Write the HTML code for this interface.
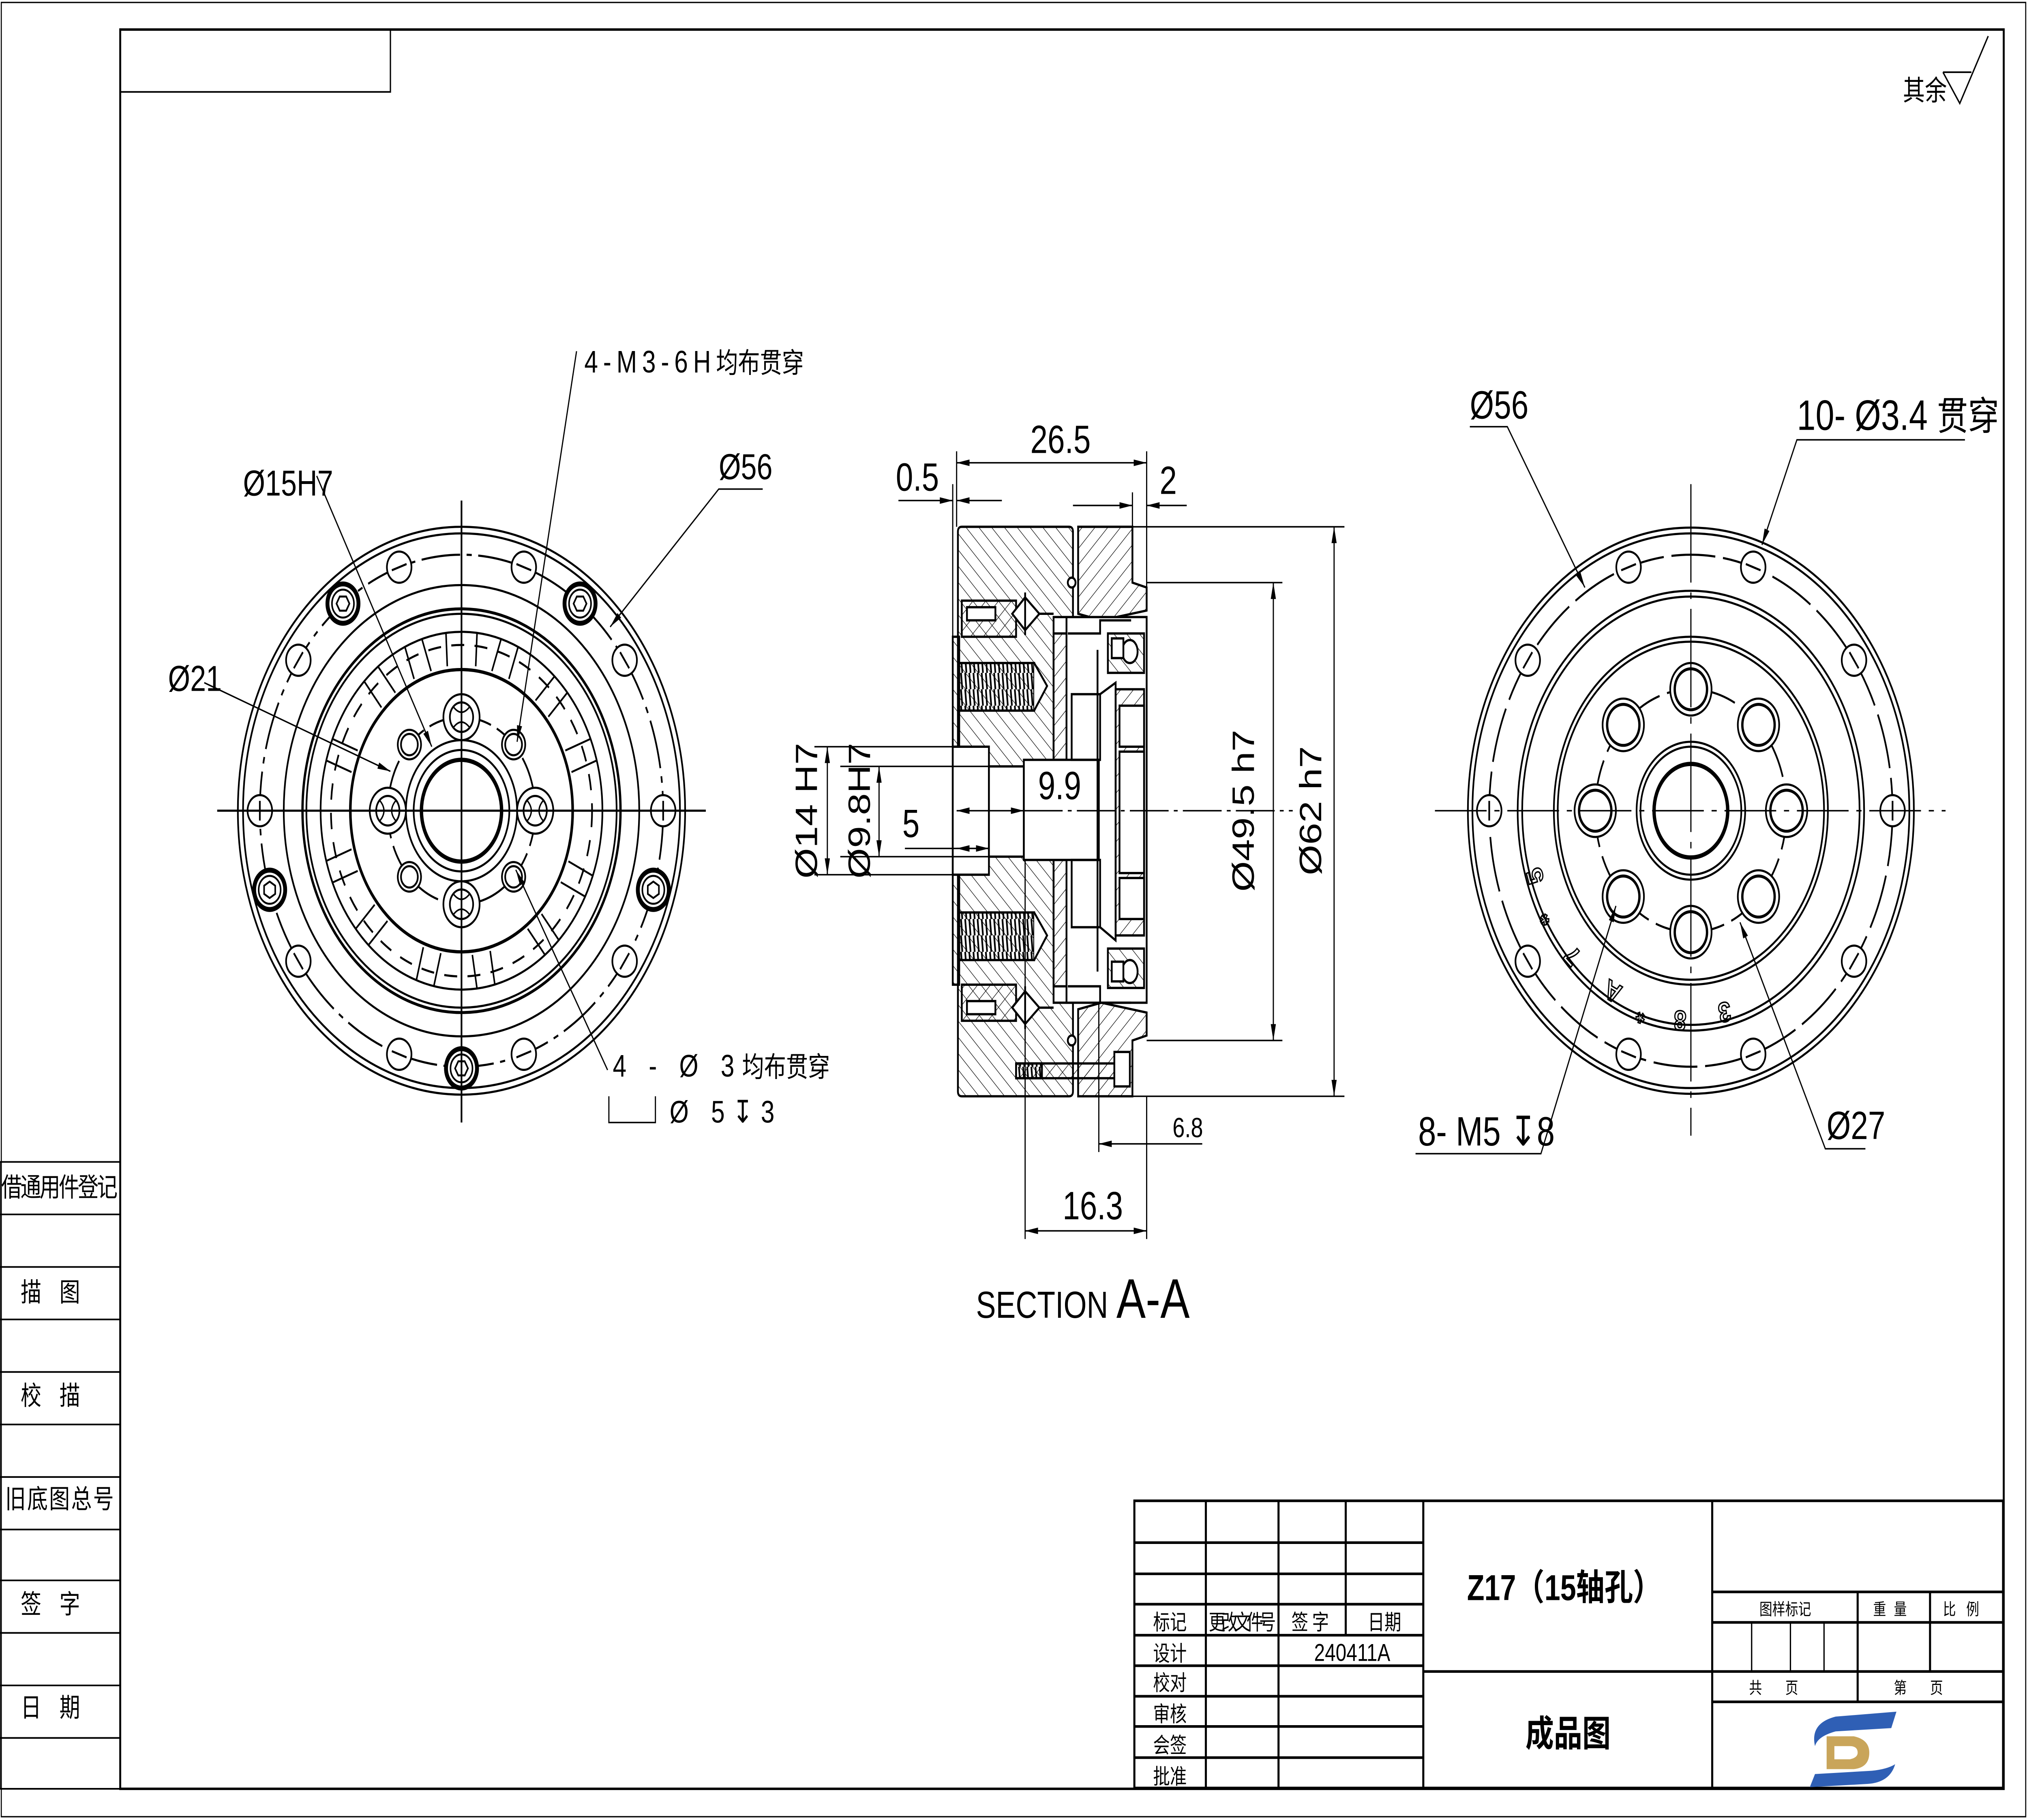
<!DOCTYPE html>
<html><head><meta charset="utf-8">
<style>
html,body{margin:0;padding:0;background:#fff;width:100%;height:100%;overflow:hidden}
svg{display:block;width:100vw;height:100vh;position:absolute;left:0;top:0}
text{font-family:"Liberation Sans Narrow","Liberation Sans","Noto Sans CJK SC",sans-serif;fill:#000}
.cjk{font-family:"Liberation Sans","Noto Sans CJK SC",sans-serif}
</style></head><body>
<svg viewBox="0 0 1568 1109" preserveAspectRatio="none" xmlns="http://www.w3.org/2000/svg">
<defs>
<pattern id="h1" patternUnits="userSpaceOnUse" width="7" height="7" patternTransform="rotate(45)">
<line x1="0" y1="0" x2="0" y2="7" stroke="#000" stroke-width="0.7"/></pattern>
<pattern id="h2" patternUnits="userSpaceOnUse" width="7" height="7" patternTransform="rotate(-45)">
<line x1="0" y1="0" x2="0" y2="7" stroke="#000" stroke-width="0.7"/></pattern>
<pattern id="th" patternUnits="userSpaceOnUse" width="3.2" height="10">
<line x1="1" y1="0" x2="2" y2="10" stroke="#000" stroke-width="1.3"/></pattern>
<marker id="ar" viewBox="0 0 10 4" refX="10" refY="2" markerWidth="10" markerHeight="4" markerUnits="userSpaceOnUse" orient="auto-start-reverse"><path d="M0 0L10 2L0 4Z" fill="#000"/></marker>
</defs>
<rect x="0" y="0" width="1568" height="1109" fill="#fff"/>
<rect x="1" y="1.5" width="1566" height="1105.5" fill="none" stroke="#000" stroke-width="0.8"/>
<rect x="93" y="18" width="1457" height="1072" fill="none" stroke="#000" stroke-width="1.5"/>
<polyline points="93,56 302,56 302,18" fill="none" stroke="#000" stroke-width="1"/>
<g stroke="#000" stroke-width="1">
<line x1="0" y1="708" x2="0" y2="1090"/>
<line x1="0" y1="708" x2="93" y2="708"/><line x1="0" y1="740" x2="93" y2="740"/>
<line x1="0" y1="772" x2="93" y2="772"/><line x1="0" y1="804" x2="93" y2="804"/>
<line x1="0" y1="836" x2="93" y2="836"/><line x1="0" y1="868" x2="93" y2="868"/>
<line x1="0" y1="900" x2="93" y2="900"/><line x1="0" y1="932" x2="93" y2="932"/>
<line x1="0" y1="963" x2="93" y2="963"/><line x1="0" y1="995" x2="93" y2="995"/>
<line x1="0" y1="1027" x2="93" y2="1027"/><line x1="0" y1="1059" x2="93" y2="1059"/>
<line x1="0" y1="1090" x2="93" y2="1090"/>
</g>
<g class="cjk" font-size="16" text-anchor="middle">
<text class="cjk" x="46" y="729" textLength="90">借通用件登记</text>
<text class="cjk" x="46" y="793" letter-spacing="14">描图</text>
<text class="cjk" x="46" y="856" letter-spacing="14">校描</text>
<text class="cjk" x="46" y="919" textLength="84">旧底图总号</text>
<text class="cjk" x="46" y="983" letter-spacing="14">签字</text>
<text class="cjk" x="46" y="1046" letter-spacing="14">日期</text>
</g>
<text class="cjk" x="1472" y="61" font-size="17">其余</text>
<polyline points="1503,44 1516,63 1538,22" fill="none" stroke="#000" stroke-width="1"/>
<line x1="1503" y1="44" x2="1525" y2="44" stroke="#000" stroke-width="1"/>

<!-- LEFT VIEW -->
<g fill="none" stroke="#000" stroke-width="1.3">
<circle cx="357" cy="494" r="173"/><circle cx="357" cy="494" r="169"/>
<circle cx="357" cy="494" r="156" stroke-dasharray="30 5 4 5"/>
<circle cx="357" cy="494" r="137.5"/><circle cx="357" cy="494" r="123" stroke-width="1.8"/>
<circle cx="357" cy="494" r="120"/><circle cx="357" cy="494" r="109"/>
<circle cx="357" cy="494" r="101" stroke-dasharray="10 8"/>
<circle cx="357" cy="494" r="86" stroke-width="2"/>
<circle cx="357" cy="494" r="57" stroke-dasharray="22 5"/>
<circle cx="357" cy="494" r="43"/><circle cx="357" cy="494" r="37"/>
<circle cx="357" cy="494" r="31" stroke-width="2.6"/>
</g>
<g stroke="#000" stroke-width="1.2" fill="none">
<path d="M357 385 v21 M345 386 l1 20 M369 386 l-1 20"/>
<g transform="rotate(20 357 494)"><path d="M350 385 v21 M364 385 v21"/></g>
<g transform="rotate(45 357 494)"><path d="M350 385 v21 M364 385 v21"/></g>
<g transform="rotate(70 357 494)"><path d="M350 385 v21 M364 385 v21"/></g>
<g transform="rotate(115 357 494)"><path d="M350 385 v21 M364 385 v21"/></g>
<g transform="rotate(140 357 494)"><path d="M350 385 v21 M364 385 v21"/></g>
<g transform="rotate(170 357 494)"><path d="M350 385 v21 M364 385 v21"/></g>
<g transform="rotate(195 357 494)"><path d="M350 385 v21 M364 385 v21"/></g>
<g transform="rotate(225 357 494)"><path d="M350 385 v21 M364 385 v21"/></g>
<g transform="rotate(250 357 494)"><path d="M350 385 v21 M364 385 v21"/></g>
<g transform="rotate(290 357 494)"><path d="M350 385 v21 M364 385 v21"/></g>
<g transform="rotate(320 357 494)"><path d="M350 385 v21 M364 385 v21"/></g>
<g transform="rotate(340 357 494)"><path d="M350 385 v21 M364 385 v21"/></g>
</g>
<g fill="#fff" stroke="#000" stroke-width="1.3">
<circle cx="513" cy="494" r="9.5"/><circle cx="483.2" cy="402.3" r="9.5"/><circle cx="405.2" cy="345.6" r="9.5"/>
<circle cx="308.8" cy="345.6" r="9.5"/><circle cx="230.8" cy="402.3" r="9.5"/><circle cx="201" cy="494" r="9.5"/>
<circle cx="230.8" cy="585.7" r="9.5"/><circle cx="308.8" cy="642.4" r="9.5"/><circle cx="405.2" cy="642.4" r="9.5"/>
<circle cx="483.2" cy="585.7" r="9.5"/>
</g>
<g stroke="#000" stroke-width="1.3">
<line x1="513" y1="488" x2="513" y2="500"/>
<line x1="479.7" y1="397.4" x2="486.7" y2="407.2"/>
<line x1="399.5" y1="343.7" x2="410.9" y2="347.5"/>
<line x1="303.1" y1="347.5" x2="314.5" y2="343.7"/>
<line x1="227.3" y1="407.2" x2="234.3" y2="397.4"/>
<line x1="201" y1="488" x2="201" y2="500"/>
<line x1="227.3" y1="580.8" x2="234.3" y2="590.6"/>
<line x1="303.1" y1="640.5" x2="314.5" y2="644.3"/>
<line x1="399.5" y1="644.3" x2="410.9" y2="640.5"/>
<line x1="479.7" y1="590.6" x2="486.7" y2="580.8"/>
</g>
<g fill="#fff" stroke="#000">
<g transform="translate(448.7 367.8)"><circle r="12" stroke-width="3"/><circle r="8.5" stroke-width="1.2"/><polygon points="5,0 2.5,4.3 -2.5,4.3 -5,0 -2.5,-4.3 2.5,-4.3" stroke-width="1.2"/></g>
<g transform="translate(265.3 367.8)"><circle r="12" stroke-width="3"/><circle r="8.5" stroke-width="1.2"/><polygon points="5,0 2.5,4.3 -2.5,4.3 -5,0 -2.5,-4.3 2.5,-4.3" stroke-width="1.2"/></g>
<g transform="translate(208.6 542.2)"><circle r="12" stroke-width="3"/><circle r="8.5" stroke-width="1.2"/><polygon points="0,5 4.3,2.5 4.3,-2.5 0,-5 -4.3,-2.5 -4.3,2.5" stroke-width="1.2"/></g>
<g transform="translate(357 651)"><circle r="12" stroke-width="3"/><circle r="8.5" stroke-width="1.2"/><polygon points="5,0 2.5,4.3 -2.5,4.3 -5,0 -2.5,-4.3 2.5,-4.3" stroke-width="1.2"/></g>
<g transform="translate(505.4 542.2)"><circle r="12" stroke-width="3"/><circle r="8.5" stroke-width="1.2"/><polygon points="0,5 4.3,2.5 4.3,-2.5 0,-5 -4.3,-2.5 -4.3,2.5" stroke-width="1.2"/></g>
</g>
<g fill="#fff" stroke="#000" stroke-width="1.3">
<circle cx="414" cy="494" r="14"/><circle cx="414" cy="494" r="9"/>
<circle cx="357" cy="437" r="14"/><circle cx="357" cy="437" r="9"/>
<circle cx="300" cy="494" r="14"/><circle cx="300" cy="494" r="9"/>
<circle cx="357" cy="551" r="14"/><circle cx="357" cy="551" r="9"/>
<circle cx="397.3" cy="453.7" r="9"/><circle cx="397.3" cy="453.7" r="6.5"/>
<circle cx="316.7" cy="453.7" r="9"/><circle cx="316.7" cy="453.7" r="6.5"/>
<circle cx="316.7" cy="534.3" r="9"/><circle cx="316.7" cy="534.3" r="6.5"/>
<circle cx="397.3" cy="534.3" r="9"/><circle cx="397.3" cy="534.3" r="6.5"/>
</g>
<g fill="none" stroke="#000" stroke-width="1">
<path d="M408 488 Q414 494 408 500 M420 488 Q414 494 420 500"/>
<path d="M294 488 Q300 494 294 500 M306 488 Q300 494 306 500"/>
<path d="M351 431 Q357 437 363 431 M351 443 Q357 437 363 443"/>
<path d="M351 545 Q357 551 363 545 M351 557 Q357 551 363 557"/>
</g>
<g stroke="#000" stroke-width="1.3">
<line x1="168" y1="494" x2="546" y2="494"/>
<line x1="357" y1="305" x2="357" y2="684"/>
</g>
<g stroke="#000" stroke-width="0.9" fill="none">
<line x1="446" y1="214" x2="400" y2="452" marker-end="url(#ar)"/>
<line x1="245" y1="290" x2="334" y2="455" marker-end="url(#ar)"/>
<polyline points="590,298 556,298 472,382" marker-end="url(#ar)"/>
<line x1="158" y1="416" x2="302" y2="470" marker-end="url(#ar)"/>
<line x1="470" y1="652" x2="399" y2="530" marker-end="url(#ar)"/>
<polyline points="471,668 471,684 507,684 507,668"/>
</g>
<text class="cjk" x="452" y="227" font-size="19" letter-spacing="4">4-M3-6H<tspan font-size="17" letter-spacing="0">均布贯穿</tspan></text>
<text x="188" y="302" font-size="22">Ø15H7</text>
<text x="556" y="292" font-size="22">Ø56</text>
<text x="130" y="421" font-size="22">Ø21</text>
<text class="cjk" x="474" y="656" font-size="19" letter-spacing="6">4 - Ø 3<tspan font-size="17" letter-spacing="0">均布贯穿</tspan></text>
<text x="518" y="684" font-size="19" letter-spacing="6">Ø 5↧3</text>

<!-- SECTION -->
<g stroke="#000" stroke-width="1.4">
<rect x="737" y="388" width="5" height="212" fill="url(#h2)"/>
<path d="M744 321 H827 Q830 321 830 324 V376 H815 V611 H830 V665 Q830 668 827 668 H744 Q741 668 741 665 V324 Q741 321 744 321 Z" fill="url(#h2)"/>
<path d="M834 321 H876 V355 L887 358 V372 L852 378 L834 374 Z" fill="url(#h1)"/>
<path d="M834 668 H876 V634 L887 631 V617 L852 611 L834 615 Z" fill="url(#h1)"/>
<rect x="815" y="386" width="10" height="77" fill="url(#h1)"/>
<rect x="815" y="524" width="10" height="77" fill="url(#h1)"/>
<rect x="825" y="376" width="62" height="235" fill="#fff"/>
<rect x="737" y="455" width="28" height="78" fill="#fff"/>
<rect x="765" y="467" width="27" height="55" fill="#fff"/>
<rect x="792" y="463" width="58" height="61" fill="#fff"/>
<rect x="742" y="404" width="58" height="29" fill="url(#th)"/>
<rect x="742" y="556" width="58" height="29" fill="url(#th)"/>
<path d="M800 404 L810 418 L800 433" fill="#fff"/>
<path d="M800 556 L810 570 L800 585" fill="#fff"/>
<rect x="744" y="366" width="42" height="22" fill="url(#h1)"/>
<rect x="748" y="370" width="22" height="8" fill="#fff"/>
<rect x="744" y="600" width="42" height="22" fill="url(#h1)"/>
<rect x="748" y="610" width="22" height="8" fill="#fff"/>
<path d="M783 374 L793 364 L804 374 L793 384 Z M793 361 V387 M804 374 H815" fill="#fff"/>
<path d="M783 614 L793 604 L804 614 L793 624 Z M793 601 V627 M804 614 H815" fill="#fff"/>
<rect x="829" y="423" width="22" height="40" fill="none"/>
<rect x="829" y="524" width="22" height="41" fill="none"/>
<path d="M826 386 H851 V378 H875 M826 601 H851 V611 H875" fill="none"/>
<path d="M849 396 V592 M851 423 L863 416 V573 L851 565" fill="none"/>
<rect x="863" y="420" width="22" height="150" fill="url(#h1)"/>
<rect x="866" y="430" width="19" height="25" fill="#fff"/>
<rect x="866" y="535" width="19" height="25" fill="#fff"/>
<rect x="866" y="458" width="19" height="74" fill="#fff"/>
<rect x="857" y="386" width="28" height="24" fill="url(#h2)"/>
<rect x="857" y="578" width="28" height="24" fill="url(#h2)"/>
<ellipse cx="874" cy="397" rx="6" ry="7" fill="#fff"/>
<ellipse cx="874" cy="592" rx="6" ry="7" fill="#fff"/>
<rect x="860" y="389" width="9" height="12" fill="#fff"/>
<rect x="860" y="586" width="9" height="12" fill="#fff"/>
<circle cx="829" cy="355" r="3" fill="#fff"/>
<circle cx="829" cy="634" r="3" fill="#fff"/>
<rect x="786" y="648" width="84" height="9" fill="url(#h1)"/>
<rect x="786" y="648" width="20" height="9" fill="url(#th)"/>
<rect x="862" y="641" width="12" height="21" fill="#fff"/>
</g>
<g stroke="#000" stroke-width="0.9" fill="none">
<line x1="740" y1="275" x2="740" y2="321"/><line x1="737" y1="295" x2="737" y2="388"/>
<line x1="887" y1="275" x2="887" y2="358"/><line x1="876" y1="300" x2="876" y2="321"/>
<line x1="740" y1="282" x2="887" y2="282" marker-start="url(#ar)" marker-end="url(#ar)"/>
<line x1="695" y1="305" x2="737" y2="305" marker-end="url(#ar)"/>
<line x1="740" y1="305" x2="775" y2="305" marker-start="url(#ar)"/>
<line x1="830" y1="308" x2="876" y2="308" marker-end="url(#ar)"/>
<line x1="887" y1="308" x2="918" y2="308" marker-start="url(#ar)"/>
<line x1="887" y1="355" x2="992" y2="355"/><line x1="887" y1="634" x2="992" y2="634"/>
<line x1="985" y1="355" x2="985" y2="634" marker-start="url(#ar)" marker-end="url(#ar)"/>
<line x1="876" y1="321" x2="1040" y2="321"/><line x1="876" y1="668" x2="1040" y2="668"/>
<line x1="1032" y1="321" x2="1032" y2="668" marker-start="url(#ar)" marker-end="url(#ar)"/>
<line x1="630" y1="455" x2="737" y2="455"/><line x1="630" y1="533" x2="737" y2="533"/>
<line x1="640" y1="455" x2="640" y2="533" marker-start="url(#ar)" marker-end="url(#ar)"/>
<line x1="650" y1="467" x2="765" y2="467"/><line x1="650" y1="522" x2="765" y2="522"/>
<line x1="680" y1="467" x2="680" y2="522" marker-start="url(#ar)" marker-end="url(#ar)"/>
<line x1="740" y1="494" x2="792" y2="494" marker-start="url(#ar)" marker-end="url(#ar)"/>
<line x1="792" y1="494" x2="1000" y2="494" stroke-dasharray="30 4 3 4"/>
<line x1="700" y1="517" x2="765" y2="517"/>
<line x1="740" y1="517" x2="765" y2="517" marker-start="url(#ar)" marker-end="url(#ar)"/>
<line x1="850" y1="611" x2="850" y2="702"/>
<line x1="850" y1="697" x2="930" y2="697" marker-start="url(#ar)"/>
<line x1="887" y1="668" x2="887" y2="755"/>
<line x1="793" y1="524" x2="793" y2="755"/>
<line x1="793" y1="750" x2="887" y2="750" marker-start="url(#ar)" marker-end="url(#ar)"/>
</g>
<g font-size="24">
<text x="797" y="276">26.5</text>
<text x="693" y="299">0.5</text>
<text x="897" y="301">2</text>
<text x="698" y="510">5</text>
<text x="803" y="487">9.9</text>
<text x="822" y="743">16.3</text>
<text x="907" y="693" font-size="17">6.8</text>
<text transform="translate(970 494) rotate(-90)" text-anchor="middle">Ø49.5 h7</text>
<text transform="translate(1022 494) rotate(-90)" text-anchor="middle">Ø62 h7</text>
<text transform="translate(632 494) rotate(-90)" text-anchor="middle">Ø14 H7</text>
<text transform="translate(673 494) rotate(-90)" text-anchor="middle">Ø9.8H7</text>
</g>
<text x="755" y="803" font-size="23">SECTION <tspan font-size="34">A-A</tspan></text>

<!-- RIGHT VIEW -->
<g fill="none" stroke="#000" stroke-width="1.3">
<circle cx="1308" cy="494" r="172.5"/><circle cx="1308" cy="494" r="169"/>
<circle cx="1308" cy="494" r="156" stroke-dasharray="34 6"/>
<circle cx="1308" cy="494" r="134"/><circle cx="1308" cy="494" r="130.5"/>
<circle cx="1308" cy="494" r="106"/><circle cx="1308" cy="494" r="103"/>
<circle cx="1308" cy="494" r="74" stroke-dasharray="24 6"/>
<circle cx="1308" cy="494" r="42"/><circle cx="1308" cy="494" r="39"/>
<circle cx="1308" cy="494" r="28.5" stroke-width="2.6"/>
</g>
<g fill="#fff" stroke="#000" stroke-width="1.3">
<circle cx="1464" cy="494" r="9.5"/><circle cx="1434.2" cy="402.3" r="9.5"/><circle cx="1356.2" cy="345.6" r="9.5"/>
<circle cx="1259.8" cy="345.6" r="9.5"/><circle cx="1181.8" cy="402.3" r="9.5"/><circle cx="1152" cy="494" r="9.5"/>
<circle cx="1181.8" cy="585.7" r="9.5"/><circle cx="1259.8" cy="642.4" r="9.5"/><circle cx="1356.2" cy="642.4" r="9.5"/>
<circle cx="1434.2" cy="585.7" r="9.5"/>
</g>
<g stroke="#000" stroke-width="1.3">
<line x1="1464" y1="488" x2="1464" y2="500"/>
<line x1="1430.7" y1="397.4" x2="1437.7" y2="407.2"/>
<line x1="1350.5" y1="343.7" x2="1361.9" y2="347.5"/>
<line x1="1254.1" y1="347.5" x2="1265.5" y2="343.7"/>
<line x1="1178.3" y1="407.2" x2="1185.3" y2="397.4"/>
<line x1="1152" y1="488" x2="1152" y2="500"/>
<line x1="1178.3" y1="580.8" x2="1185.3" y2="590.6"/>
<line x1="1254.1" y1="640.5" x2="1265.5" y2="644.3"/>
<line x1="1350.5" y1="644.3" x2="1361.9" y2="640.5"/>
<line x1="1430.7" y1="590.6" x2="1437.7" y2="580.8"/>
</g>
<g fill="#fff" stroke="#000" stroke-width="1.3">
<circle cx="1382" cy="494" r="16"/><circle cx="1382" cy="494" r="12.5" stroke-width="1.8"/>
<circle cx="1360.3" cy="441.7" r="16"/><circle cx="1360.3" cy="441.7" r="12.5" stroke-width="1.8"/>
<circle cx="1308" cy="420" r="16"/><circle cx="1308" cy="420" r="12.5" stroke-width="1.8"/>
<circle cx="1255.7" cy="441.7" r="16"/><circle cx="1255.7" cy="441.7" r="12.5" stroke-width="1.8"/>
<circle cx="1234" cy="494" r="16"/><circle cx="1234" cy="494" r="12.5" stroke-width="1.8"/>
<circle cx="1255.7" cy="546.3" r="16"/><circle cx="1255.7" cy="546.3" r="12.5" stroke-width="1.8"/>
<circle cx="1308" cy="568" r="16"/><circle cx="1308" cy="568" r="12.5" stroke-width="1.8"/>
<circle cx="1360.3" cy="546.3" r="16"/><circle cx="1360.3" cy="546.3" r="12.5" stroke-width="1.8"/>
</g>
<g stroke="#000" stroke-width="0.9">
<line x1="1110" y1="494" x2="1505" y2="494" stroke-dasharray="40 6 4 6"/>
<line x1="1308" y1="295" x2="1308" y2="692" stroke-dasharray="60 6 4 6"/>
</g>
<g font-size="17" font-weight="bold" stroke="#000" stroke-width="0.9">
<text transform="translate(1193 532) rotate(252)" text-anchor="middle" style="fill:none">5</text>
<text transform="translate(1202 556) rotate(238)" text-anchor="middle" style="fill:none">*</text>
<text transform="translate(1220 578) rotate(222)" text-anchor="middle" style="fill:none">7</text>
<text transform="translate(1250 599) rotate(205)" text-anchor="middle" style="fill:none">A</text>
<text transform="translate(1271 612) rotate(195)" text-anchor="middle" style="fill:none">*</text>
<text transform="translate(1300 616) rotate(184)" text-anchor="middle" style="fill:none">8</text>
<text transform="translate(1333 611) rotate(170)" text-anchor="middle" style="fill:none">3</text>
</g>
<g stroke="#000" stroke-width="0.9" fill="none">
<polyline points="1137,260 1166,260 1226,358" marker-end="url(#ar)"/>
<polyline points="1520,268 1390,268 1363,332" marker-end="url(#ar)"/>
<polyline points="1095,703 1192,703 1250,552" marker-end="url(#ar)"/>
<polyline points="1443,700 1412,700 1346,562" marker-end="url(#ar)"/>
</g>
<text x="1137" y="255" font-size="24">Ø56</text>
<text class="cjk" x="1390" y="262" font-size="26">10- Ø3.4 <tspan font-size="24">贯穿</tspan></text>
<text x="1097" y="698" font-size="25">8- M5 ↧8</text>
<text x="1413" y="694" font-size="24">Ø27</text>

<!-- TITLE BLOCK -->
<g stroke="#000" stroke-width="1.6" fill="none">
<rect x="877.5" y="914.5" width="672" height="175"/>
<line x1="1101" y1="914.5" x2="1101" y2="1089.5"/>
<line x1="1324.5" y1="914.5" x2="1324.5" y2="1089.5"/>
<line x1="877.5" y1="940" x2="1101" y2="940"/>
<line x1="877.5" y1="959" x2="1101" y2="959"/>
<line x1="877.5" y1="977.5" x2="1101" y2="977.5"/>
<line x1="877.5" y1="996.4" x2="1101" y2="996.4"/>
<line x1="877.5" y1="1015" x2="1101" y2="1015"/>
<line x1="877.5" y1="1033.6" x2="1101" y2="1033.6"/>
<line x1="877.5" y1="1052" x2="1101" y2="1052"/>
<line x1="877.5" y1="1071" x2="1101" y2="1071"/>
<line x1="932.8" y1="914.5" x2="932.8" y2="1089.5"/>
<line x1="989" y1="914.5" x2="989" y2="1089.5"/>
<line x1="1041" y1="914.5" x2="1041" y2="996.4"/>
<line x1="1101" y1="1018.5" x2="1324.5" y2="1018.5"/>
<line x1="1324.5" y1="970" x2="1549.5" y2="970"/>
<line x1="1324.5" y1="988.6" x2="1549.5" y2="988.6"/>
<line x1="1324.5" y1="1018.5" x2="1549.5" y2="1018.5"/>
<line x1="1324.5" y1="1037" x2="1549.5" y2="1037"/>
<line x1="1437" y1="970" x2="1437" y2="1037"/>
<line x1="1493" y1="970" x2="1493" y2="1018.5"/>
<line x1="1355" y1="988.6" x2="1355" y2="1018.5" stroke-width="1"/>
<line x1="1385" y1="988.6" x2="1385" y2="1018.5" stroke-width="1"/>
<line x1="1411" y1="988.6" x2="1411" y2="1018.5" stroke-width="1"/>
</g>
<g class="cjk" font-size="13" text-anchor="middle">
<text class="cjk" x="905" y="993">标记</text>
<text class="cjk" x="961" y="993" textLength="52">更改文件号</text>
<text class="cjk" x="1015" y="993" letter-spacing="3">签字</text>
<text class="cjk" x="1071" y="993">日期</text>
<text class="cjk" x="905" y="1012">设计</text>
<text x="1046" y="1012" font-size="15">240411A</text>
<text class="cjk" x="905" y="1030">校对</text>
<text class="cjk" x="905" y="1049">审核</text>
<text class="cjk" x="905" y="1068">会签</text>
<text class="cjk" x="905" y="1087">批准</text>
<text class="cjk" x="1381" y="984" font-size="10">图样标记</text>
<text class="cjk" x="1465" y="984" font-size="10" letter-spacing="6">重量</text>
<text class="cjk" x="1521" y="984" font-size="10" letter-spacing="8">比例</text>
<text class="cjk" x="1381" y="1032" font-size="10" letter-spacing="18">共页</text>
<text class="cjk" x="1493" y="1032" font-size="10" letter-spacing="18">第页</text>
</g>
<text class="cjk" x="1210" y="975" font-size="22" font-weight="bold" text-anchor="middle">Z17（15轴孔）</text>
<text class="cjk" x="1213" y="1064" font-size="22" font-weight="bold" text-anchor="middle">成品图</text>
<path d="M1467 1043 L1463 1053 L1420 1055 Q1406 1058 1404 1064 Q1400 1050 1420 1046 Z" fill="#2f5fb5"/>
<path d="M1466 1075 Q1462 1086 1445 1087 L1400 1089 L1404 1081 L1448 1079 Q1460 1078 1466 1075 Z" fill="#2f5fb5"/>
<path d="M1413 1058 H1434 Q1446 1060 1446 1068 Q1446 1077 1434 1078 H1413 V1072 H1431 Q1437 1071 1437 1068 Q1437 1064 1431 1064 H1419 V1072 H1413 Z" fill="#c9a55a"/>
</svg>
</body></html>
